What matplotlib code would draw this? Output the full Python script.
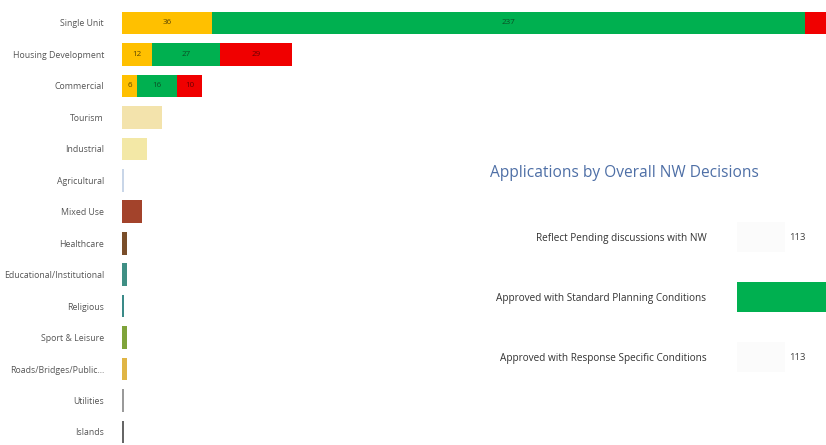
import matplotlib
matplotlib.use("Agg")
import matplotlib.pyplot as plt

plt.rcParams['font.family'] = ['Open Sans', 'DejaVu Sans']

# ---- left chart data ----
categories = ["Single Unit", "Housing Development", "Commercial", "Tourism", "Industrial",
              "Agricultural", "Mixed Use", "Healthcare", "Educational/Institutional",
              "Religious", "Sport & Leisure", "Roads/Bridges/Public...", "Utilities", "Islands"]
yellow_vals = [36, 12, 6, 0, 0, 0, 0, 0, 0, 0, 0, 0, 0, 0]
green_vals = [237, 27, 16, 0, 0, 0, 0, 0, 0, 0, 0, 0, 0, 0]
red_vals = [12, 29, 10, 0, 0, 0, 0, 0, 0, 0, 0, 0, 0, 0]
other_vals = [0, 0, 0, 16, 10, 1, 8, 2, 2, 1, 2, 2, 1, 1]
other_colors = ["#FFFFFF", "#FFFFFF", "#FFFFFF", "#F3E3AC", "#F3E8A6", "#C9D6E8", "#A3432B",
                "#7A4E2A", "#3F8F84", "#3A8A88", "#7FA33A", "#E0B545", "#9A9A9A", "#666666"]

# ---- right chart data ----
decisions = ["Reflect Pending discussions with NW", "Approved with Standard Planning Conditions",
             "Approved with Response Specific Conditions"]
decision_vals = [113, 420, 113]
decision_colors = ["#FBFBFB", "#00B050", "#FBFBFB"]

W, H = 826, 445
fig = plt.figure(figsize=(W / 100, H / 100), dpi=100)

# left axes
ax = fig.add_axes([122 / W, 0, 1 - 122 / W, 1])
n = len(categories)
ys = list(range(n))
ax.barh(ys, yellow_vals, color="#FFC000", height=0.72)
ax.barh(ys, green_vals, left=yellow_vals, color="#00B050", height=0.72)
left2 = [a + b for a, b in zip(yellow_vals, green_vals)]
ax.barh(ys, red_vals, left=left2, color="#F00000", height=0.72)
ax.barh(ys, other_vals, color=other_colors, height=0.72)
for i in range(n):
    if yellow_vals[i]:
        ax.text(yellow_vals[i] / 2, i, str(yellow_vals[i]), ha="center", va="center", fontsize=5.8, color="#5a4500")
    if green_vals[i]:
        ax.text(yellow_vals[i] + green_vals[i] / 2, i, str(green_vals[i]), ha="center", va="center", fontsize=5.8, color="#0b4f25")
    if red_vals[i] and i > 0:
        ax.text(left2[i] + red_vals[i] / 2, i, str(red_vals[i]), ha="center", va="center", fontsize=5.8, color="#6a0000")
ax.set_xlim(0, 704 / 2.5)
ax.set_ylim((H - 23) / 31.46, -23 / 31.46)
ax.set_yticks(ys)
ax.set_yticklabels(categories, fontsize=6.3, color="#555555")
ax.tick_params(axis="y", length=0, pad=13)
ax.set_xticks([])
for s in ax.spines.values():
    s.set_visible(False)

# right title
fig.text(490 / W, 1 - 173 / H, "Applications by Overall NW Decisions", fontsize=11.2,
         color="#4E6FA6", ha="left", va="center")

# right axes
rax = fig.add_axes([737 / W, 1 - 387 / H, (W - 737) / W, 180 / H])
rys = [0, 1, 2]
rxmax = 89 / 0.425
rax.barh(rys, decision_vals, color=decision_colors, height=0.5)
for i, v in enumerate(decision_vals):
    if v + 40 < rxmax:
        rax.text(v + 10, i, str(v), ha="left", va="center", fontsize=6.8, color="#444444")
rax.set_xlim(0, rxmax)
rax.set_ylim(2.5, -0.5)
rax.set_yticks(rys)
rax.set_yticklabels(decisions, fontsize=7.2, color="#333333")
rax.tick_params(axis="y", length=0, pad=22)
rax.set_xticks([])
rax.patch.set_alpha(0)
for s in rax.spines.values():
    s.set_visible(False)

fig.savefig("out.png", dpi=100)
